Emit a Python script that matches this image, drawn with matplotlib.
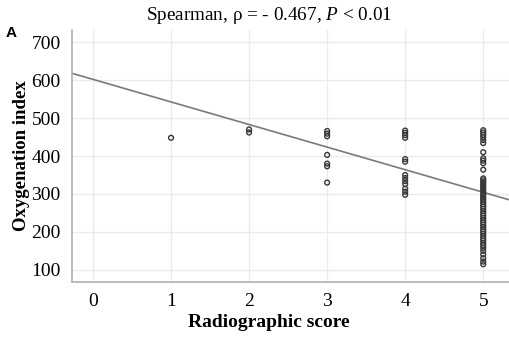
import matplotlib
matplotlib.use("Agg")
import matplotlib.pyplot as plt

plt.rcParams["mathtext.fontset"] = "custom"
plt.rcParams["mathtext.rm"] = "Liberation Serif"
plt.rcParams["mathtext.it"] = "Liberation Serif:italic"

# Datos
score_1 = [448]
score_2 = [462, 470]
score_3 = [466, 459, 452, 403, 380, 373, 330]
score_4 = [467, 461, 455, 448, 392, 385, 350, 342, 334, 326, 314, 306, 298]
score_5 = [468, 462, 456, 450, 442, 434, 410, 394, 388, 381, 364, 341, 336, 331,
           326, 321, 316, 311, 306, 300, 295, 290, 285, 279, 273, 267, 261, 255,
           249, 243, 237, 231, 225, 219, 213, 207, 201, 195, 189, 183, 177, 171,
           165, 158, 150, 141, 131, 122, 115]
groups = {1: score_1, 2: score_2, 3: score_3, 4: score_4, 5: score_5}

fit_intercept = 602
fit_slope = -59.5

x_ticks = [0, 1, 2, 3, 4, 5]
y_ticks = [100, 200, 300, 400, 500, 600, 700]
x_lim = (-0.27, 5.33)
y_lim = (68, 732)

serif = "Liberation Serif"
fig = plt.figure(figsize=(5.1, 3.37), dpi=100)
ax = fig.add_axes([0.141, 0.163, 0.857, 0.748])

xs, ys = [], []
for k, vals in groups.items():
    xs += [k] * len(vals)
    ys += vals
ax.scatter(xs, ys, s=12, facecolors="none", edgecolors="#383838", linewidths=1.0, zorder=3)

ax.set_xlim(*x_lim)
ax.set_ylim(*y_lim)
ax.plot(list(x_lim), [fit_intercept + fit_slope * v for v in x_lim],
        color="#7a7a7a", lw=1.2, zorder=2)

ax.set_xticks(x_ticks)
ax.set_yticks(y_ticks)
ax.grid(True, color="#ebebeb", lw=1.0)
ax.set_axisbelow(True)
ax.tick_params(length=0, labelsize=14, pad=8)
for lbl in ax.get_xticklabels() + ax.get_yticklabels():
    lbl.set_family(serif)
for s in ["top", "right"]:
    ax.spines[s].set_visible(False)
for s in ["left", "bottom"]:
    ax.spines[s].set_color("#b0b0b0")
    ax.spines[s].set_linewidth(1.2)

ax.set_xlabel("Radiographic score", family=serif, fontweight="bold", fontsize=14,
              labelpad=3, x=0.45)
ax.set_ylabel("Oxygenation index", family=serif, fontweight="bold", fontsize=13.5,
              labelpad=1)
fig.text(0.527, 0.955, r"Spearman, ρ = - 0.467, $P$ < 0.01", family=serif,
         fontsize=13.8, ha="center", va="center")
fig.text(0.012, 0.89, "A", family="Liberation Sans", fontweight="bold", fontsize=11)

plt.savefig("out.png", dpi=100)
plt.close()
